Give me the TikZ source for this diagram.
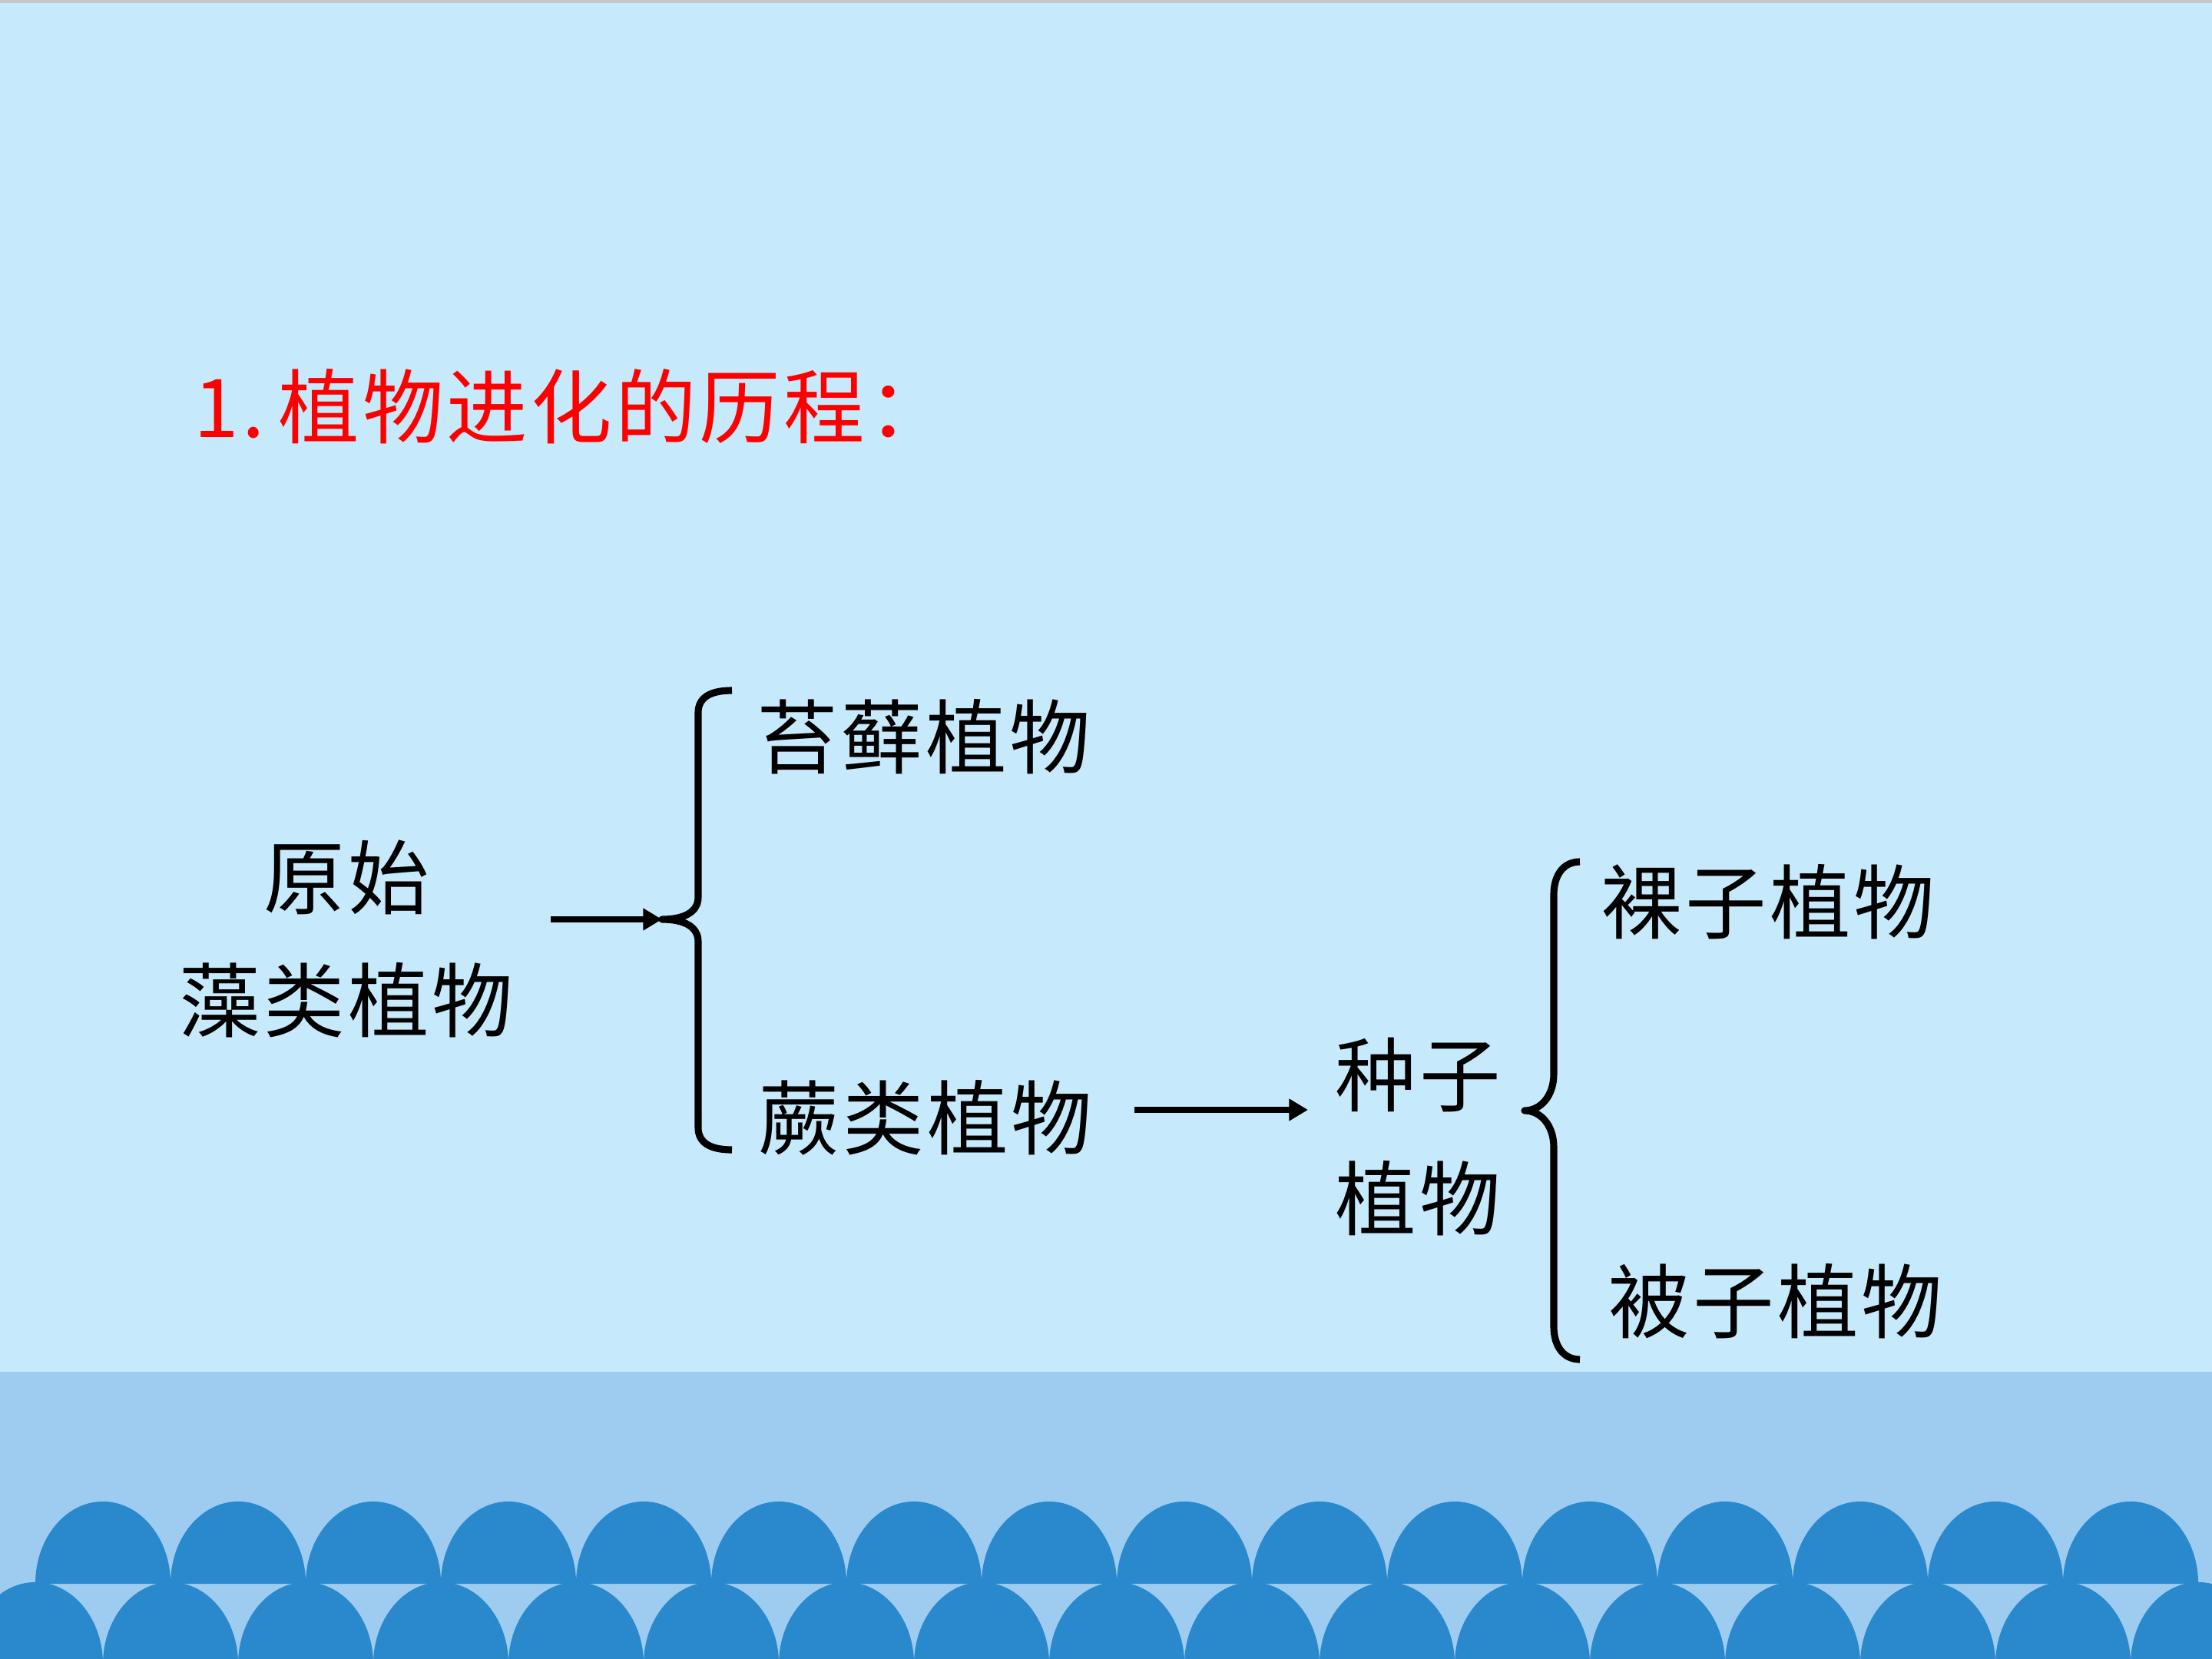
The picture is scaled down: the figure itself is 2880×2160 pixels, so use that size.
\documentclass[tikz,border=0pt]{standalone}
\usepackage{fontspec}
\newfontfamily\cjk[LetterSpace=4]{Noto Sans CJK SC}
\usetikzlibrary{arrows.meta}
\definecolor{bgA}{RGB}{198,233,251}
\definecolor{bandC}{RGB}{158,204,240}
\definecolor{waveC}{RGB}{42,136,205}
\definecolor{titleRed}{RGB}{255,0,0}
\tikzset{
  lbl/.style={font=\cjk\fontsize{30}{45.5}\selectfont, text=black, inner sep=0pt, align=center},
  ttl/.style={font=\cjk\fontsize{30}{36}\selectfont, text=titleRed, inner sep=0pt, anchor=west},
  bracepath/.style={draw=black, line width=2.6pt, line cap=butt, line join=round},
  arr/.style={draw=black, line width=2.4pt, -{Triangle[length=7pt,width=7.8pt]}},
  wave/.style={fill=waveC}
}
\begin{document}
\begin{tikzpicture}[x=0.01cm,y=-0.01cm]
\useasboundingbox (0,0) rectangle (2880,2160);
% background
\fill[bgA] (0,0) rectangle (2880,2160);
\fill[black!22] (0,0) rectangle (2880,4);
\fill[bandC] (0,1786) rectangle (2880,2160);
% waves
\foreach \i in {0,...,15}
  \fill[wave] ({46+176*\i},2062) arc[start angle=180,end angle=0,x radius=0.88cm,y radius=1.07cm] -- cycle;
\foreach \i in {0,...,16}
  \fill[wave] ({-42+176*\i},2167) arc[start angle=180,end angle=0,x radius=0.88cm,y radius=1.07cm] -- cycle;
% title
\node[ttl] (title) at (252,529) {1.\hspace{5pt}植物进化的历程：};
% labels
\node[lbl] (algae) at (451,1222) {原始\\藻类植物};
\node[lbl] (moss) at (1203,959) {苔藓植物};
\node[lbl] (fern) at (1205,1455) {蕨类植物};
\node[lbl] (seed) at (1846,1480) {种子\\植物};
\node[lbl] (gymno) at (2302,1174) {裸子植物};
\node[lbl] (angio) at (2312,1694) {被子植物};
% brace 1
\coordinate (b1tip) at (862,1197);
\draw[bracepath] (953,899) .. controls (925,899) and (909,908) .. (909,928)
  -- (909,1168) .. controls (909,1188) and (890,1197) .. (b1tip)
  .. controls (890,1197) and (909,1206) .. (909,1226)
  -- (909,1468) .. controls (909,1488) and (925,1497) .. (953,1497);
% brace 2
\coordinate (b2tip) at (1985,1446);
\draw[bracepath] (2057,1122) .. controls (2035,1122) and (2023,1140) .. (2023,1165)
  -- (2023,1398) .. controls (2023,1428) and (2005,1446) .. (b2tip)
  .. controls (2005,1446) and (2023,1464) .. (2023,1494)
  -- (2023,1727) .. controls (2023,1752) and (2035,1770) .. (2057,1770);
% arrows
\coordinate (a1s) at (717,1197);
\draw[arr] (a1s) -- (b1tip);
\coordinate (a2s) at (1477,1445);
\coordinate (a2e) at (1703,1445);
\draw[arr] (a2s) -- (a2e);
\end{tikzpicture}
\end{document}
